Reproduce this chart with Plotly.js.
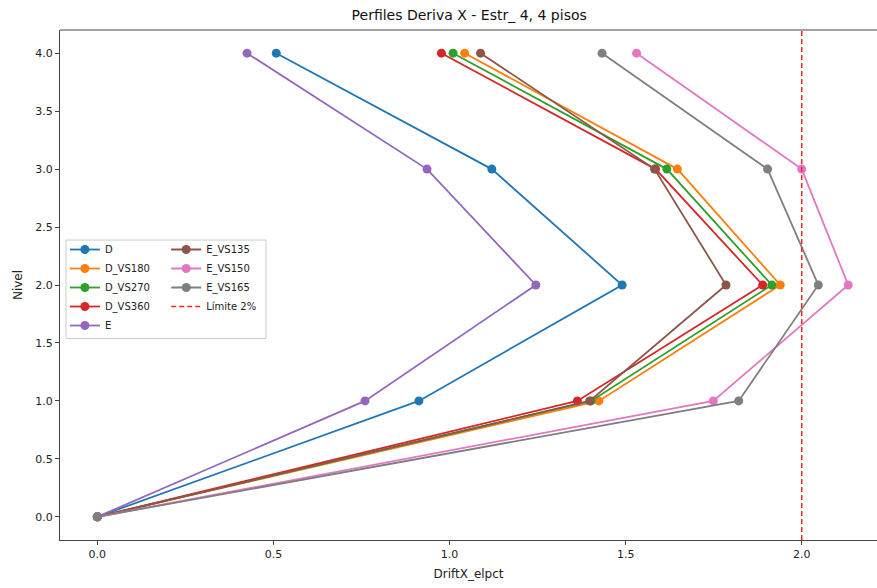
<!DOCTYPE html>
<html>
<head>
<meta charset="utf-8">
<script src="https://cdn.plot.ly/plotly-3.0.1.min.js"></script>
<style>html,body{margin:0;padding:0;background:#fff;}#chart{width:877px;height:588px;}</style>
</head>
<body>
<div id="chart"></div>
<script>
const niveles = [0, 1, 2, 3, 4];
const D       = [0, 0.913, 1.490, 1.120, 0.508];
const D_VS180 = [0, 1.424, 1.939, 1.647, 1.043];
const D_VS270 = [0, 1.402, 1.915, 1.617, 1.010];
const D_VS360 = [0, 1.363, 1.889, 1.585, 0.977];
const E       = [0, 0.760, 1.245, 0.936, 0.425];
const E_VS135 = [0, 1.398, 1.785, 1.582, 1.088];
const E_VS150 = [0, 1.749, 2.132, 2.000, 1.531];
const E_VS165 = [0, 1.821, 2.047, 1.903, 1.433];
const limite = 2.0;
const xTicks = [0, 0.5, 1.0, 1.5, 2.0];
const yTicks = [0, 0.5, 1.0, 1.5, 2.0, 2.5, 3.0, 3.5, 4.0];

const series = [
  {name: 'D', x: D, color: '#1f77b4', legend: 'legend', rank: 1},
  {name: 'D_VS180', x: D_VS180, color: '#ff7f0e', legend: 'legend', rank: 2},
  {name: 'D_VS270', x: D_VS270, color: '#2ca02c', legend: 'legend', rank: 3},
  {name: 'D_VS360', x: D_VS360, color: '#d62728', legend: 'legend', rank: 4},
  {name: 'E', x: E, color: '#9467bd', legend: 'legend', rank: 5},
  {name: 'E_VS135', x: E_VS135, color: '#8c564b', legend: 'legend2', rank: 1},
  {name: 'E_VS150', x: E_VS150, color: '#e377c2', legend: 'legend2', rank: 2},
  {name: 'E_VS165', x: E_VS165, color: '#7f7f7f', legend: 'legend2', rank: 3}
];

const traces = series.map(s => ({
  type: 'scatter', mode: 'lines+markers', name: s.name,
  x: s.x, y: niveles, legend: s.legend, legendrank: s.rank,
  line: {color: s.color, width: 1.8},
  marker: {color: s.color, size: 9}
}));
traces.push({
  type: 'scatter', mode: 'lines', name: 'Límite 2%',
  x: [limite, limite], y: [-0.2, 4.2], legend: 'legend2', legendrank: 4,
  line: {color: '#ff2020', width: 1.5, dash: '5px,3px'}
});

const font = {family: 'DejaVu Sans', size: 11, color: '#222'};
const titleFont = {family: 'DejaVu Sans', size: 12, color: '#222'};
const legFont = {family: 'DejaVu Sans', size: 10, color: '#222'};

const layout = {
  width: 877, height: 588,
  margin: {l: 60, r: 0, t: 30, b: 48},
  paper_bgcolor: '#fff', plot_bgcolor: '#fff',
  font: font,
  title: {text: 'Perfiles Deriva X - Estr_ 4, 4 pisos', font: {family: 'DejaVu Sans', size: 14, color: '#111'},
          x: 0.535, xanchor: 'center', y: 0.975, yanchor: 'middle'},
  xaxis: {
    range: [-0.106, 2.2137], tickvals: xTicks, ticktext: xTicks.map(v => v.toFixed(1)),
    showgrid: false, zeroline: false, showline: true, linecolor: '#444', linewidth: 1,
    ticks: 'outside', ticklen: 4, tickcolor: '#444', tickfont: font,
    title: {text: 'DriftX_elpct', font: titleFont, standoff: 9}
  },
  yaxis: {
    range: [-0.2, 4.2], tickvals: yTicks, ticktext: yTicks.map(v => v.toFixed(1)),
    showgrid: false, zeroline: false, showline: true, linecolor: '#444', linewidth: 1,
    ticks: 'outside', ticklen: 4, tickcolor: '#444', tickfont: font,
    title: {text: 'Nivel', font: titleFont, standoff: 10}
  },
  shapes: [
    {type: 'line', xref: 'paper', yref: 'paper', x0: 0, x1: 1, y0: 1, y1: 1, line: {color: '#444', width: 1}},
    {type: 'rect', xref: 'paper', yref: 'paper', x0: 0.0073, x1: 0.2521, y0: 0.395, y1: 0.5882,
     line: {color: '#cccccc', width: 1}, fillcolor: 'rgba(255,255,255,0.8)', layer: 'above'}
  ],
  showlegend: true,
  legend: {x: 0.006, y: 0.598, xanchor: 'left', yanchor: 'top', bgcolor: 'rgba(0,0,0,0)',
           font: legFont, tracegroupgap: 0, itemwidth: 30},
  legend2: {x: 0.130, y: 0.598, xanchor: 'left', yanchor: 'top', bgcolor: 'rgba(0,0,0,0)',
            font: legFont, tracegroupgap: 0, itemwidth: 30}
};

Plotly.newPlot('chart', traces, layout, {displayModeBar: false, staticPlot: true});
</script>
</body>
</html>
